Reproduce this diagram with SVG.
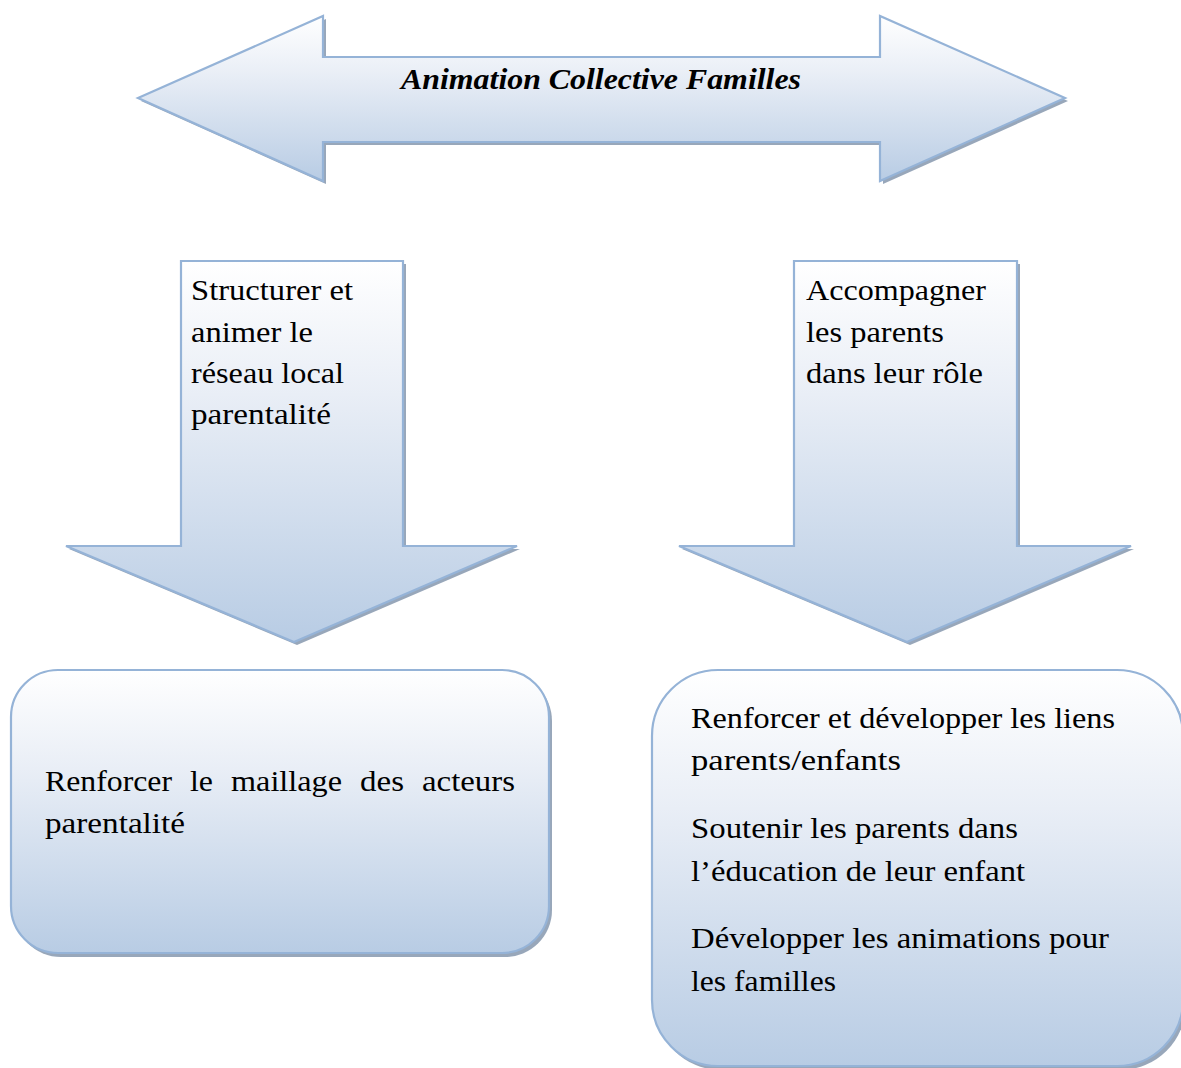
<svg xmlns="http://www.w3.org/2000/svg" width="1181" height="1068" viewBox="0 0 1181 1068">
  <defs>
    <linearGradient id="fillGrad" x1="0" y1="0" x2="0" y2="1">
      <stop offset="0" stop-color="#ffffff"/>
      <stop offset="0.35" stop-color="#e9eef6"/>
      <stop offset="1" stop-color="#b8cce4"/>
    </linearGradient>
    <style>
      .shape { fill: url(#fillGrad); stroke: #95b3d7; stroke-width: 2.2; stroke-linejoin: miter; }
      .shadow { fill: #8d9db3; stroke: none; opacity: 0.9; }
      .label { font-family: "Liberation Serif", "DejaVu Serif", serif; font-size: 29px; fill: #000000; }
      .title { font-family: "Liberation Serif", "DejaVu Serif", serif; font-size: 29px; font-style: italic; font-weight: bold; fill: #000000; }
    </style>
  </defs>

  <!-- Top double-headed arrow with title -->
  <g id="node-animation-collective">
    <path class="shadow" transform="translate(3,3)" d="M138,98 L323,16 L323,57 L880,57 L880,16 L1065,98 L880,181 L880,142 L323,142 L323,181 Z"/>
    <path class="shape" d="M138,98 L323,16 L323,57 L880,57 L880,16 L1065,98 L880,181 L880,142 L323,142 L323,181 Z"/>
    <text class="title" x="601" y="89" text-anchor="middle" textLength="400" lengthAdjust="spacingAndGlyphs">Animation Collective Familles</text>
  </g>

  <!-- Left down arrow -->
  <g id="node-structurer">
    <path class="shadow" transform="translate(3,3)" d="M181,261 L403,261 L403,546 L517,546 L294,642 L66,546 L181,546 Z"/>
    <path class="shape" d="M181,261 L403,261 L403,546 L517,546 L294,642 L66,546 L181,546 Z"/>
    <text class="label">
      <tspan x="191" y="300" textLength="162" lengthAdjust="spacingAndGlyphs">Structurer et</tspan>
      <tspan x="191" y="342" textLength="122" lengthAdjust="spacingAndGlyphs">animer le</tspan>
      <tspan x="191" y="383" textLength="153" lengthAdjust="spacingAndGlyphs">réseau local</tspan>
      <tspan x="191" y="424" textLength="140" lengthAdjust="spacingAndGlyphs">parentalité</tspan>
    </text>
  </g>

  <!-- Right down arrow -->
  <g id="node-accompagner">
    <path class="shadow" transform="translate(3,3)" d="M794,261 L1017,261 L1017,546 L1131,546 L907,642 L679,546 L794,546 Z"/>
    <path class="shape" d="M794,261 L1017,261 L1017,546 L1131,546 L907,642 L679,546 L794,546 Z"/>
    <text class="label">
      <tspan x="806" y="300" textLength="180" lengthAdjust="spacingAndGlyphs">Accompagner</tspan>
      <tspan x="806" y="342" textLength="138" lengthAdjust="spacingAndGlyphs">les parents</tspan>
      <tspan x="806" y="383" textLength="177" lengthAdjust="spacingAndGlyphs">dans leur rôle</tspan>
    </text>
  </g>

  <!-- Left rounded box -->
  <g id="node-maillage">
    <rect class="shadow" x="14" y="674" width="538" height="283" rx="47" ry="47"/>
    <rect class="shape" x="11" y="670" width="538" height="283" rx="47" ry="47"/>
    <text class="label">
      <tspan x="45" y="791" textLength="127" lengthAdjust="spacingAndGlyphs">Renforcer</tspan>
      <tspan x="190" y="791" textLength="23" lengthAdjust="spacingAndGlyphs">le</tspan>
      <tspan x="231" y="791" textLength="111" lengthAdjust="spacingAndGlyphs">maillage</tspan>
      <tspan x="360" y="791" textLength="44" lengthAdjust="spacingAndGlyphs">des</tspan>
      <tspan x="422" y="791" textLength="93" lengthAdjust="spacingAndGlyphs">acteurs</tspan>
      <tspan x="45" y="833" textLength="140" lengthAdjust="spacingAndGlyphs">parentalité</tspan>
    </text>
  </g>

  <!-- Right rounded box -->
  <g id="node-liens">
    <rect class="shadow" x="655" y="674" width="531" height="396" rx="66" ry="66"/>
    <rect class="shape" x="652" y="670" width="531" height="396" rx="66" ry="66"/>
    <text class="label">
      <tspan x="691" y="728" textLength="424" lengthAdjust="spacingAndGlyphs">Renforcer et développer les liens</tspan>
      <tspan x="691" y="770" textLength="210" lengthAdjust="spacingAndGlyphs">parents/enfants</tspan>
      <tspan x="691" y="838" textLength="327" lengthAdjust="spacingAndGlyphs">Soutenir les parents dans</tspan>
      <tspan x="691" y="881" textLength="334" lengthAdjust="spacingAndGlyphs">l’éducation de leur enfant</tspan>
      <tspan x="691" y="948" textLength="418" lengthAdjust="spacingAndGlyphs">Développer les animations pour</tspan>
      <tspan x="691" y="991" textLength="145" lengthAdjust="spacingAndGlyphs">les familles</tspan>
    </text>
  </g>

  <!-- No separate connectors: the arrows are shapes in their own right -->
  <g id="connectors"/>
</svg>
